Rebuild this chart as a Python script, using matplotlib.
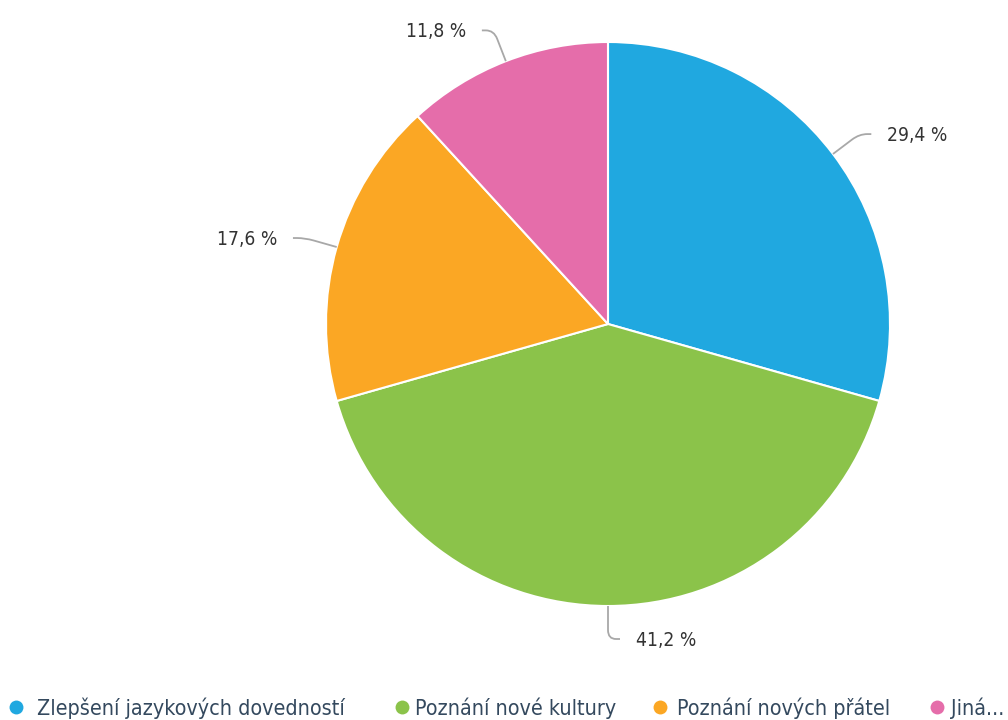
import numpy as np
import matplotlib
matplotlib.use("Agg")
from matplotlib import pyplot as plt
from matplotlib.path import Path
from matplotlib.patches import PathPatch

# Data
categories = ["Zlepšení jazykových dovedností", "Poznání nové kultury",
              "Poznání nových přátel", "Jiná..."]
values = [29.4, 41.2, 17.6, 11.8]
labels = ["29,4 %", "41,2 %", "17,6 %", "11,8 %"]
colors = ["#20a8e0", "#8bc34a", "#fba724", "#e56daa"]

W, H = 1008, 720
fig = plt.figure(figsize=(W / 100, H / 100), dpi=100)
ax = fig.add_axes([0, 0, 1, 1])

# pixel coordinates, y going up
cx, cy, r = 608, H - 324, 282
font = dict(family="DejaVu Sans", stretch="condensed")

wedges, _ = ax.pie(values, colors=colors, startangle=90, counterclock=False,
                   center=(cx, cy), radius=r,
                   wedgeprops=dict(edgecolor="white", linewidth=1.5))

ext = 33   # how far the connector runs out of the pie
hlen = 12  # horizontal bit of the connector
for w, lab in zip(wedges, labels):
    th = np.deg2rad((w.theta1 + w.theta2) / 2)
    d = np.array([np.cos(th), np.sin(th)])
    c = np.array([cx, cy])
    sgn = 1 if d[0] > -0.01 else -1
    p0 = c + r * d
    elbow = c + (r + ext) * d
    pa = elbow - 9 * d
    pb = elbow + np.array([sgn * 8, 0])
    pe = elbow + np.array([sgn * hlen, 0])
    path = Path([p0, pa, elbow, pb, pe],
                [Path.MOVETO, Path.LINETO, Path.CURVE3, Path.CURVE3, Path.LINETO])
    ax.add_patch(PathPatch(path, facecolor="none", edgecolor="#a8a8a8", lw=1.3))
    ax.text(pe[0] + sgn * 16, pe[1] - 1, lab, ha="left" if sgn > 0 else "right",
            va="center", fontsize=13.8, color="#333333", **font)

# legend along the bottom
dot_x = [16, 402, 660, 937]
txt_x = [37, 415, 677, 951]
leg_y = H - 708
for x, tx, cat, col in zip(dot_x, txt_x, categories, colors):
    ax.scatter([x], [leg_y + 1], s=100, color=col, zorder=3, linewidths=0)
    ax.text(tx, leg_y, cat, ha="left", va="center", fontsize=15.4,
            color="#34495e", **font)

ax.set_xlim(0, W)
ax.set_ylim(0, H)
ax.set_aspect("auto")
ax.axis("off")

fig.savefig("out.png", dpi=100)
